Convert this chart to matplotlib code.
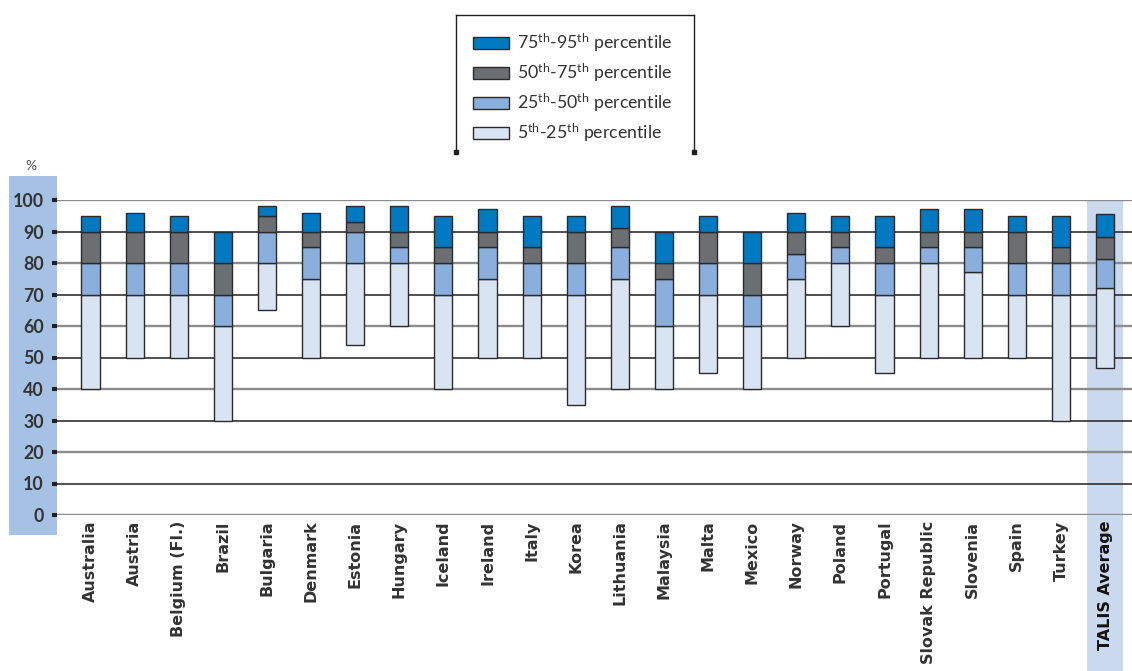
import matplotlib
matplotlib.use("Agg")
import matplotlib.pyplot as plt
from matplotlib.patches import Rectangle
from matplotlib.lines import Line2D
from matplotlib.transforms import blended_transform_factory
import numpy as np

countries = ["Australia", "Austria", "Belgium (Fl.)", "Brazil", "Bulgaria", "Denmark",
             "Estonia", "Hungary", "Iceland", "Ireland", "Italy", "Korea", "Lithuania",
             "Malaysia", "Malta", "Mexico", "Norway", "Poland", "Portugal",
             "Slovak Republic", "Slovenia", "Spain", "Turkey", "TALIS Average"]
p5  = [40, 50, 50, 30, 65, 50, 54, 60, 40, 50, 50, 35, 40, 40, 45, 40, 50, 60, 45, 50, 50, 50, 30, 46.7]
p25 = [70, 70, 70, 60, 80, 75, 80, 80, 70, 75, 70, 70, 75, 60, 70, 60, 75, 80, 70, 80, 77, 70, 70, 72.1]
p50 = [80, 80, 80, 70, 90, 85, 90, 85, 80, 85, 80, 80, 85, 75, 80, 70, 83, 85, 80, 85, 85, 80, 80, 81.4]
p75 = [90, 90, 90, 80, 95, 90, 93, 90, 85, 90, 85, 90, 91, 80, 90, 80, 90, 90, 85, 90, 90, 90, 85, 88.1]
p95 = [95, 96, 95, 90, 98, 96, 98, 98, 95, 97, 95, 95, 98, 90, 95, 90, 96, 95, 95, 97, 97, 95, 95, 95.4]
series_labels = [r"5$^{\mathrm{th}}$-25$^{\mathrm{th}}$ percentile",
                 r"25$^{\mathrm{th}}$-50$^{\mathrm{th}}$ percentile",
                 r"50$^{\mathrm{th}}$-75$^{\mathrm{th}}$ percentile",
                 r"75$^{\mathrm{th}}$-95$^{\mathrm{th}}$ percentile"]
yticks = [0, 10, 20, 30, 40, 50, 60, 70, 80, 90, 100]

colors = ["#D9E4F3", "#8AAFDD", "#6D6E71", "#0079C1"]
edge = "#2a2a2a"

plt.rcParams['mathtext.fontset'] = 'custom'
plt.rcParams['mathtext.rm'] = 'Lato'
plt.rcParams['mathtext.it'] = 'Lato:italic'
plt.rcParams['mathtext.bf'] = 'Lato:bold'

W, H = 1132, 671
fig = plt.figure(figsize=(W / 100, H / 100), dpi=100)
ax = fig.add_axes([57 / W, (H - 515) / H, (W - 57) / W, 315 / H])
ax.patch.set_visible(False)

x = np.arange(len(countries))
ax.set_xlim(-0.76, 23.61)
ax.set_ylim(0, 100)

# left blue band behind y tick labels
fig.patches.append(Rectangle((9 / W, (H - 535) / H), 48 / W, 359 / H,
                             transform=fig.transFigure, facecolor="#A5C2E4",
                             edgecolor="none", zorder=-1))

# TALIS average highlight band
bt = blended_transform_factory(ax.transData, fig.transFigure)
ax.add_patch(Rectangle((x[-1] - 0.4, 0), 0.8, (H - 200) / H, transform=bt,
                       facecolor="#CAD9EE", edgecolor="none", clip_on=False, zorder=0.3))

# gridlines
for i, t in enumerate(yticks):
    if i % 2 == 0:
        ax.axhline(t, color="#8c8c8c", lw=1.7, zorder=0.8)
    else:
        ax.axhline(t, color="#231F20", lw=1.1, zorder=0.8)

bounds = [p5, p25, p50, p75, p95]
handles = []
for k in range(4):
    lo = np.array(bounds[k], dtype=float)
    hi = np.array(bounds[k + 1], dtype=float)
    b = ax.bar(x, hi - lo, bottom=lo, width=0.41, color=colors[k],
               edgecolor=edge, linewidth=1.0, zorder=2, label=series_labels[k])
    handles.append(b)

for s in ax.spines.values():
    s.set_visible(False)

ax.set_yticks(yticks)
ax.set_yticklabels([str(t) for t in yticks], fontfamily="Lato", fontweight="bold",
                   fontsize=12.8, color="#333333")
ax.tick_params(axis='y', length=3.6, width=2.9, color="#231F20", pad=6.0, direction='out')

ax.set_xticks(x)
ax.set_xticklabels(countries, rotation=90, fontfamily="DejaVu Sans", fontweight="bold",
                   fontsize=11.5, color="#333333", va="top", ha="center")
ax.tick_params(axis='x', length=0, pad=4)
lbls = ax.get_xticklabels()
lbls[-1].set_color("#111111")

fig.text(31 / W, (H - 166) / H, "%", fontfamily="Lato", fontsize=10, color="#555555",
         ha="center", va="center")

# legend
leg = fig.legend(handles=handles[::-1], labels=series_labels[::-1], loc="upper left",
                 bbox_to_anchor=(473 / W, (H - 32) / H), frameon=False,
                 prop={"family": "Lato", "size": 12.8}, labelcolor="#333333",
                 handlelength=2.0, handleheight=0.68, handletextpad=0.45,
                 labelspacing=0.42, borderpad=0, borderaxespad=0)

def fx(px):
    return px / W

def fy(py):
    return (H - py) / H

for (x0, y0, x1, y1) in [(456, 15, 694, 15), (456, 15, 456, 152), (694, 15, 694, 152)]:
    fig.add_artist(Line2D([fx(x0), fx(x1)], [fy(y0), fy(y1)], color="#231F20", lw=1.0,
                          transform=fig.transFigure))
for xx in (456, 694):
    fig.add_artist(Line2D([fx(xx)], [fy(152)], marker="s", markersize=3.5,
                          color="#231F20", transform=fig.transFigure))

fig.savefig("out.png", dpi=100)
